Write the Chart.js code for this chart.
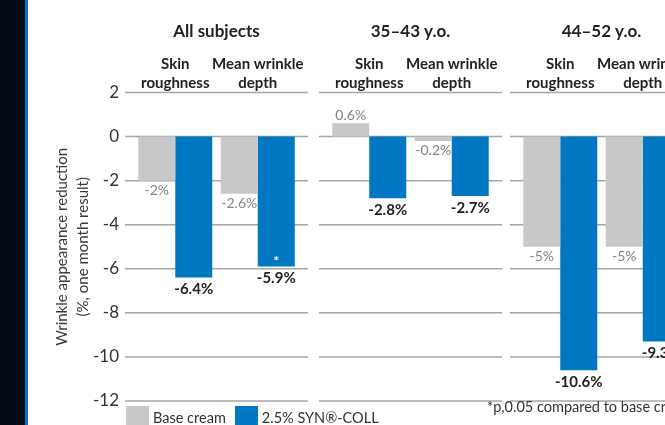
<!DOCTYPE html>
<html>
<head>
<meta charset="utf-8">
<script src="https://cdn.jsdelivr.net/npm/chart.js@4.4.1/dist/chart.umd.min.js"></script>
<style>
  html, body { margin: 0; padding: 0; }
  body {
    position: relative;
    width: 665px;
    height: 425px;
    overflow: hidden;
    background: #fff;
    font-family: Lato, 'Noto Sans', sans-serif;
  }
  .edge {
    position: absolute;
    left: 0; top: 0;
    width: 25px; height: 425px;
    background: #030b16;
    border-right: 3px solid #0a6fbd;
  }
  .panel { position: absolute; top: 0; height: 425px; }
  #legend { position: absolute; left: 126px; top: 406px; display: flex; }
  .key { display: flex; align-items: flex-start; margin-right: 9px; }
  .swatch { width: 23px; height: 23px; }
  .key span {
    margin: 3px 0 0 4px;
    font-size: 14.5px; color: #333;
    line-height: 1.2; white-space: nowrap;
  }
  #note {
    position: absolute; left: 487px; top: 398px;
    font-size: 14.5px; color: #333;
    line-height: 1.2; white-space: nowrap;
  }
</style>
</head>
<body>
<div class="edge"></div>
<div class="panel" style="left:28px;width:290px"><canvas id="g0"></canvas></div>
<div class="panel" style="left:310px;width:200px"><canvas id="g1"></canvas></div>
<div class="panel" style="left:500px;width:200px"><canvas id="g2"></canvas></div>
<div id="legend"></div>
<div id="note"></div>

<script>
// values
const groupTitles = ['All subjects', '35–43 y.o.', '44–52 y.o.'];
const measures = [['Skin', 'roughness'], ['Mean wrinkle', 'depth']];
const seriesNames = ['Base cream', '2.5% SYN®-COLL'];
const baseCream = [[-2, -2.6], [0.6, -0.2], [-5, -5]];
const synColl = [[-6.4, -5.9], [-2.8, -2.7], [-10.6, -9.3]];
const significant = [[false, true], [false, false], [false, false]];
const yMin = -12;
const yMax = 2;
const yStep = 2;
const yTitle = ['Wrinkle appearance reduction', '(%, one month result)'];
const footnote = '*p,0.05 compared to base cream';

const GRAY = '#c8c8ca';
const BLUE = '#0077c1';
const FONT = "Lato, 'Noto Sans', sans-serif";

// each panel: chart area 165px wide, grid runs 9px past it on both sides
const panels = [
  { id: 'g0', padLeft: 0, padRight: 19 },
  { id: 'g1', padLeft: 18, padRight: 17 },
  { id: 'g2', padLeft: 19, padRight: 16 },
];

Chart.defaults.font.family = FONT;

// horizontal rules per group, a bit wider than the bars' area
const groupGrid = {
  id: 'groupGrid',
  beforeDatasetsDraw(chart, args, opts) {
    const { ctx, chartArea, scales: { y } } = chart;
    ctx.save();
    ctx.strokeStyle = opts.color;
    ctx.lineWidth = opts.width;
    y.ticks.forEach((t) => {
      const py = y.getPixelForValue(t.value);
      ctx.beginPath();
      ctx.moveTo(chartArea.left - opts.overhang, py);
      ctx.lineTo(chartArea.right + opts.overhang, py);
      ctx.stroke();
    });
    ctx.restore();
  },
};

const valueLabels = {
  id: 'valueLabels',
  afterDatasetsDraw(chart) {
    const { ctx } = chart;
    ctx.save();
    ctx.textAlign = 'center';
    ctx.textBaseline = 'middle';
    chart.data.datasets.forEach((ds, di) => {
      const meta = chart.getDatasetMeta(di);
      meta.data.forEach((bar, i) => {
        const v = ds.data[i];
        ctx.font = ds.valueFont;
        ctx.fillStyle = ds.valueColor;
        const ty = v < 0 ? bar.y + ds.valueGap : bar.y - 8;
        ctx.fillText(v + '%', bar.x, ty);
        if (ds.stars && ds.stars[i]) {
          ctx.font = 'bold 14px ' + FONT;
          ctx.fillStyle = '#fff';
          ctx.fillText('*', bar.x, bar.y - 5);
        }
      });
    });
    ctx.restore();
  },
};

function createGroupChart(g) {
  const panel = panels[g];
  const first = g === 0;
  return new Chart(document.getElementById(panel.id), {
    type: 'bar',
    data: {
      labels: measures,
      datasets: [
        {
          label: seriesNames[0],
          data: baseCream[g],
          backgroundColor: GRAY,
          valueColor: '#858585',
          valueFont: '14px ' + FONT,
          valueGap: 10,
        },
        {
          label: seriesNames[1],
          data: synColl[g],
          backgroundColor: BLUE,
          valueColor: '#222',
          valueFont: 'bold 15px ' + FONT,
          valueGap: 12,
          stars: significant[g],
        },
      ],
    },
    options: {
      responsive: true,
      maintainAspectRatio: false,
      animation: false,
      layout: { padding: { left: panel.padLeft, right: panel.padRight, top: 0, bottom: 24 } },
      datasets: { bar: { barPercentage: 1, categoryPercentage: 0.897 } },
      plugins: {
        legend: { display: false },
        tooltip: { enabled: false },
        title: {
          display: true,
          text: groupTitles[g],
          fullSize: false,
          color: '#222',
          font: { size: 17, weight: 'bold', lineHeight: 1.2 },
          padding: { top: 21, bottom: 13 },
        },
        groupGrid: { color: '#a6a6a6', width: 1.5, overhang: 9 },
      },
      scales: {
        x: {
          position: 'top',
          grid: { display: false, drawTicks: false },
          border: { display: false },
          ticks: {
            padding: 0,
            maxRotation: 0,
            minRotation: 0,
            autoSkip: false,
            color: '#222',
            font: { size: 15, weight: 'bold', lineHeight: 1.27 },
          },
        },
        y: {
          display: first,
          min: yMin,
          max: yMax,
          grid: { display: false, drawTicks: false },
          border: { display: false },
          ticks: {
            stepSize: yStep,
            padding: 15,
            color: '#333',
            font: { size: 17 },
          },
          title: {
            display: true,
            text: yTitle,
            color: '#3a3a3a',
            font: { size: 15, lineHeight: 1.38 },
            padding: { top: 24, bottom: 0 },
          },
          afterFit(scale) {
            if (!first) return;
            scale.width = 106;
            // the end labels have room already, keep the plot height fixed
            scale.paddingTop = 0;
            scale.paddingBottom = 0;
          },
        },
      },
    },
    plugins: [groupGrid, valueLabels],
  });
}

groupTitles.forEach((_, g) => createGroupChart(g));

const legend = document.getElementById('legend');
[GRAY, BLUE].forEach((color, i) => {
  const key = document.createElement('div');
  key.className = 'key';
  key.innerHTML = '<div class="swatch" style="background:' + color + '"></div><span>' + seriesNames[i] + '</span>';
  legend.appendChild(key);
});
document.getElementById('note').textContent = footnote;
</script>
</body>
</html>
